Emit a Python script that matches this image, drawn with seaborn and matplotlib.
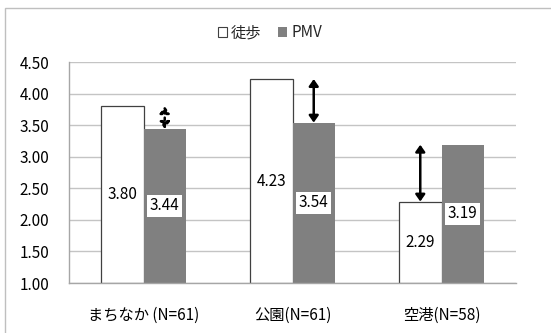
import matplotlib
matplotlib.use("Agg")
import matplotlib.pyplot as plt
from matplotlib.patches import Patch, Rectangle
import seaborn as sns
import pandas as pd

categories = ["まちなか (N=61)", "公園(N=61)", "空港(N=58)"]
series = ["徒歩", "PMV"]
walk_values = [3.80, 4.23, 2.29]
pmv_values = [3.44, 3.54, 3.19]
arrow_bar = ["PMV", "PMV", "徒歩"]
arrow_style = [":", "-", "-"]
y_ticks = [1.00, 1.50, 2.00, 2.50, 3.00, 3.50, 4.00, 4.50]

sns.set_theme(style="white")
plt.rcParams["font.family"] = ["Noto Sans CJK JP", "DejaVu Sans"]

df = pd.DataFrame({
    "category": categories * 2,
    "series": [series[0]] * 3 + [series[1]] * 3,
    "value": walk_values + pmv_values,
})

fig = plt.figure(figsize=(5.51, 3.33), dpi=100)
ax = fig.add_axes([69 / 551, 1 - 283 / 333, (516 - 69) / 551, (283 - 62) / 333])

palette = {"徒歩": "#ffffff", "PMV": "#808080"}
sns.barplot(data=df, x="category", y="value", hue="series", palette=palette,
            width=0.57, ax=ax, legend=False, saturation=1)

# bars start at the 1.00 baseline
for cont in ax.containers:
    for p in cont:
        h = p.get_height()
        p.set_y(1.0)
        p.set_height(h - 1.0)
for p in ax.containers[0]:
    p.set_edgecolor("#404040")
    p.set_linewidth(0.9)
for p in ax.containers[1]:
    p.set_edgecolor("none")

ax.set_ylim(1.0, 4.5)
ax.set_xlim(-0.5, 2.5)
ax.set_yticks(y_ticks)
ax.set_yticklabels([f"{v:.2f}" for v in y_ticks])
ax.yaxis.grid(True, color="#c4c4c4", linewidth=1.0)
ax.set_axisbelow(True)
ax.set_xlabel("")
ax.set_ylabel("")
for s in ["top", "right"]:
    ax.spines[s].set_visible(False)
for s in ["left", "bottom"]:
    ax.spines[s].set_color("#a6a6a6")
    ax.spines[s].set_linewidth(1.0)
ax.tick_params(axis="y", length=0, pad=14, labelsize=11, colors="#000000")
ax.tick_params(axis="x", length=0, pad=17, labelsize=11, colors="#000000")

# value labels in the middle of each bar
for cont, vals in zip(ax.containers, [walk_values, pmv_values]):
    for p, v in zip(cont, vals):
        xc = p.get_x() + p.get_width() / 2
        ax.text(xc, (v + 1.0) / 2, f"{v:.2f}", ha="center", va="center",
                fontsize=11, color="#000000", zorder=5,
                bbox=dict(facecolor="white", edgecolor="none", pad=2.0))

# double arrows between the two scores
for i in range(len(categories)):
    cont = ax.containers[series.index(arrow_bar[i])]
    p = cont[i]
    xc = p.get_x() + p.get_width() / 2
    lo, hi = sorted([walk_values[i], pmv_values[i]])
    ax.annotate("", xy=(xc, hi), xytext=(xc, lo), zorder=6,
                arrowprops=dict(arrowstyle="<|-|>,head_length=0.4,head_width=0.28",
                                color="black", lw=1.8, linestyle=arrow_style[i],
                                shrinkA=0, shrinkB=0, mutation_scale=10))

handles = [Patch(facecolor="#ffffff", edgecolor="#404040", linewidth=0.8, label="徒歩"),
           Patch(facecolor="#808080", edgecolor="none", label="PMV")]
fig.legend(handles=handles, loc="center", bbox_to_anchor=(0.49, 0.902), ncol=2,
           frameon=False, fontsize=11, handlelength=0.6, handleheight=0.6,
           handletextpad=0.25, columnspacing=1.1)

# chart border
fig.patches.append(Rectangle((5 / 551, -0.05), 1.0, 1 - 8 / 333 + 0.05,
                             transform=fig.transFigure, fill=False,
                             edgecolor="#bfbfbf", linewidth=1.0))

fig.savefig("out.png", dpi=100)
